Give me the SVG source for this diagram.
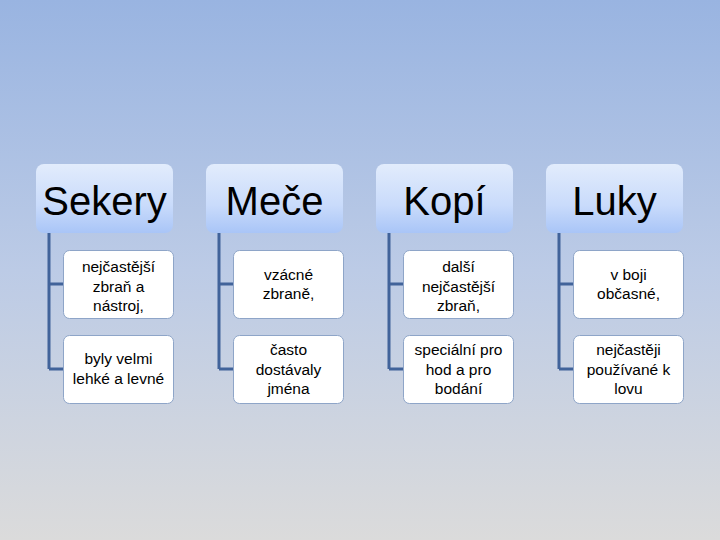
<svg xmlns="http://www.w3.org/2000/svg" width="720" height="540" viewBox="0 0 720 540">
<defs>
<linearGradient id="bg" x1="0" y1="0" x2="0" y2="1">
<stop offset="0" stop-color="#99b4e1"/>
<stop offset="0.5" stop-color="#bccbe6"/>
<stop offset="1" stop-color="#dbdbdb"/>
</linearGradient>
<linearGradient id="hd" x1="0" y1="0" x2="0" y2="1">
<stop offset="0" stop-color="#e2ecfc"/>
<stop offset="0.6" stop-color="#c9dbfb"/>
<stop offset="1" stop-color="#a9c5f7"/>
</linearGradient>
<style>
.hdr{fill:url(#hd);stroke:none}
.hdt{font-family:"Liberation Sans","Open Sans",sans-serif;font-size:40px;fill:#000;text-anchor:middle}
.box{fill:#fff;stroke:#8ea5c8;stroke-width:1}
.bt{font-family:"Liberation Sans","Open Sans",sans-serif;font-size:15.5px;fill:#000;text-anchor:middle}
.con{fill:none;stroke:#41639a;stroke-width:3}
</style>
</defs>
<rect width="720" height="540" fill="url(#bg)"/>
<g id="connectors">
<path class="con" d="M49 233V369M49 284H63M49 369H63"/>
<path class="con" d="M219 233V369M219 284H234M219 369H234"/>
<path class="con" d="M389 233V369M389 284H404M389 369H404"/>
<path class="con" d="M559 233V369M559 284H574M559 369H574"/>
</g>
<g id="sekery">
<rect class="hdr" x="36" y="164" width="137" height="69" rx="8"/>
<text class="hdt" x="104.5" y="215">Sekery</text>
</g>
<g id="sekery-1">
<rect class="box" x="63.5" y="250.5" width="110" height="68" rx="6"/>
<text class="bt" x="118.5"><tspan x="118.5" y="272">nejčastější</tspan><tspan x="118.5" y="292">zbraň a</tspan><tspan x="118.5" y="311">nástroj,</tspan></text>
</g>
<g id="sekery-2">
<rect class="box" x="63.5" y="335.5" width="110" height="68" rx="6"/>
<text class="bt" x="118.5"><tspan x="118.5" y="364">byly velmi</tspan><tspan x="118.5" y="384">lehké a levné</tspan></text>
</g>
<g id="mece">
<rect class="hdr" x="206" y="164" width="137" height="69" rx="8"/>
<text class="hdt" x="274.5" y="215">Meče</text>
</g>
<g id="mece-1">
<rect class="box" x="233.5" y="250.5" width="110" height="68" rx="6"/>
<text class="bt"><tspan x="288.5" y="280">vzácné</tspan><tspan x="288.5" y="299">zbraně,</tspan></text>
</g>
<g id="mece-2">
<rect class="box" x="233.5" y="335.5" width="110" height="68" rx="6"/>
<text class="bt"><tspan x="288.5" y="355">často</tspan><tspan x="288.5" y="375">dostávaly</tspan><tspan x="288.5" y="394">jména</tspan></text>
</g>
<g id="kopi">
<rect class="hdr" x="376" y="164" width="137" height="69" rx="8"/>
<text class="hdt" x="444.5" y="215">Kopí</text>
</g>
<g id="kopi-1">
<rect class="box" x="403.5" y="250.5" width="110" height="68" rx="6"/>
<text class="bt"><tspan x="458.5" y="272">další</tspan><tspan x="458.5" y="292">nejčastější</tspan><tspan x="458.5" y="311">zbraň,</tspan></text>
</g>
<g id="kopi-2">
<rect class="box" x="403.5" y="335.5" width="110" height="68" rx="6"/>
<text class="bt"><tspan x="458.5" y="355">speciální pro</tspan><tspan x="458.5" y="375">hod a pro</tspan><tspan x="458.5" y="394">bodání</tspan></text>
</g>
<g id="luky">
<rect class="hdr" x="546" y="164" width="137" height="69" rx="8"/>
<text class="hdt" x="614.5" y="215">Luky</text>
</g>
<g id="luky-1">
<rect class="box" x="573.5" y="250.5" width="110" height="68" rx="6"/>
<text class="bt"><tspan x="628.5" y="280">v boji</tspan><tspan x="628.5" y="299">občasné,</tspan></text>
</g>
<g id="luky-2">
<rect class="box" x="573.5" y="335.5" width="110" height="68" rx="6"/>
<text class="bt"><tspan x="628.5" y="355">nejčastěji</tspan><tspan x="628.5" y="375">používané k</tspan><tspan x="628.5" y="394">lovu</tspan></text>
</g>
</svg>
